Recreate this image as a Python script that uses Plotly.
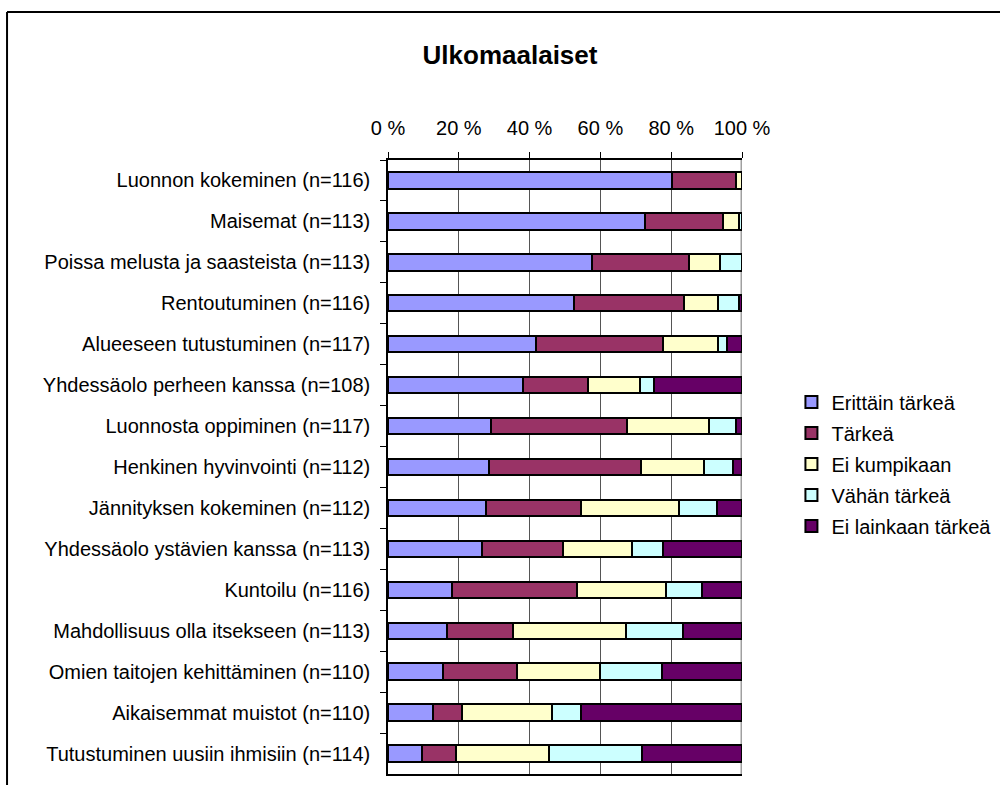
import plotly.graph_objects as go

# Survey items (top to bottom)
categories = [
    "Luonnon kokeminen (n=116)",
    "Maisemat (n=113)",
    "Poissa melusta ja saasteista (n=113)",
    "Rentoutuminen (n=116)",
    "Alueeseen tutustuminen (n=117)",
    "Yhdessäolo perheen kanssa (n=108)",
    "Luonnosta oppiminen (n=117)",
    "Henkinen hyvinvointi (n=112)",
    "Jännityksen kokeminen (n=112)",
    "Yhdessäolo ystävien kanssa (n=113)",
    "Kuntoilu (n=116)",
    "Mahdollisuus olla itsekseen (n=113)",
    "Omien taitojen kehittäminen (n=110)",
    "Aikaisemmat muistot (n=110)",
    "Tutustuminen uusiin ihmisiin (n=114)",
]

# Share of answers per category (%)
erittain_tarkea = [80.2, 72.6, 57.5, 52.6, 41.9, 38.0, 29.1, 28.6, 27.7, 26.5, 18.1, 16.8, 15.5, 12.7, 9.6]
tarkea = [18.1, 22.1, 27.4, 31.0, 35.9, 18.5, 38.5, 42.9, 26.8, 23.0, 35.3, 18.6, 20.9, 8.2, 9.6]
ei_kumpikaan = [1.7, 4.4, 8.8, 9.5, 15.4, 14.8, 23.1, 17.9, 27.7, 19.5, 25.0, 31.9, 23.6, 25.5, 26.3]
vahan_tarkea = [0.0, 0.9, 6.2, 6.0, 2.6, 3.7, 7.7, 8.0, 10.7, 8.8, 10.3, 15.9, 17.3, 8.2, 26.3]
ei_lainkaan_tarkea = [0.0, 0.0, 0.0, 0.9, 4.3, 25.0, 1.7, 2.7, 7.1, 22.1, 11.2, 16.8, 22.7, 45.5, 28.1]

series_names = ["Erittäin tärkeä", "Tärkeä", "Ei kumpikaan", "Vähän tärkeä", "Ei lainkaan tärkeä"]
series_values = [erittain_tarkea, tarkea, ei_kumpikaan, vahan_tarkea, ei_lainkaan_tarkea]
series_colors = ["#9999FF", "#993366", "#FFFFCC", "#CCFFFF", "#660066"]

tick_values = [0, 20, 40, 60, 80, 100]
tick_labels = ["0 %", "20 %", "40 %", "60 %", "80 %", "100 %"]

FONT = "Liberation Sans, Arial, sans-serif"

# Plot area placement in pixels
W, H = 1000, 785
PL, PR, PT, PB = 388, 742.5, 159.5, 773.7
pw, ph = PR - PL, PB - PT


def px_x(x):
    return (x - PL) / pw


def px_y(y):
    return 1 - (y - PT) / ph


fig = go.Figure()
for i, (name, vals, col) in enumerate(zip(series_names, series_values, series_colors)):
    fig.add_trace(go.Bar(
        y=categories,
        x=vals,
        name=name,
        orientation="h",
        legendgroup=f"g{i}",
        marker=dict(color=col, line=dict(color="#000000", width=2)),
        hoverinfo="x+y+name",
    ))

fig.update_layout(
    width=W,
    height=H,
    barmode="stack",
    bargap=0.6,
    paper_bgcolor="white",
    plot_bgcolor="white",
    margin=dict(l=PL, r=W - PR, t=PT, b=H - PB, pad=0, autoexpand=False),
    font=dict(family=FONT, size=20, color="#000000"),
    title=dict(
        text="<b>Ulkomaalaiset</b>",
        x=0.51, xref="container", xanchor="center",
        y=1 - 55 / H, yref="container", yanchor="middle",
        font=dict(family=FONT, size=26, color="#000000"),
    ),
    xaxis=dict(
        side="top",
        range=[0, 100],
        tickvals=tick_values,
        ticktext=tick_labels,
        showgrid=True,
        gridcolor="#555555",
        gridwidth=1,
        showline=True,
        linecolor="#000000",
        linewidth=1.5,
        mirror=True,
        ticks="outside",
        ticklen=6,
        tickcolor="#000000",
        ticklabelstandoff=9,
        zeroline=False,
        fixedrange=True,
    ),
    yaxis=dict(
        categoryorder="array",
        categoryarray=categories,
        autorange="reversed",
        showline=True,
        linecolor="#000000",
        linewidth=1.5,
        ticks="outside",
        tickson="boundaries",
        ticklen=6,
        tickcolor="#000000",
        ticklabelstandoff=12,
        showgrid=False,
        fixedrange=True,
    ),
    legend=dict(
        x=px_x(792), xanchor="left",
        y=px_y(382), yanchor="top",
        traceorder="grouped",
        tracegroupgap=2,
        font=dict(family=FONT, size=20, color="#000000"),
        bgcolor="rgba(0,0,0,0)",
        itemclick=False,
        itemdoubleclick=False,
    ),
    shapes=[
        # right edge of the plot area
        dict(type="line", xref="x", yref="paper", x0=100, x1=100, y0=0, y1=1,
             line=dict(color="#A0A0A0", width=3), layer="below"),
        # outer chart frame (top and left edges)
        dict(type="line", xref="paper", yref="paper",
             x0=px_x(6.5), x1=px_x(W + 5), y0=px_y(11.5), y1=px_y(11.5),
             line=dict(color="#000000", width=2)),
        dict(type="line", xref="paper", yref="paper",
             x0=px_x(6.5), x1=px_x(6.5), y0=px_y(11.5), y1=px_y(H + 5),
             line=dict(color="#000000", width=2)),
    ],
)

fig.write_html("out.html")
